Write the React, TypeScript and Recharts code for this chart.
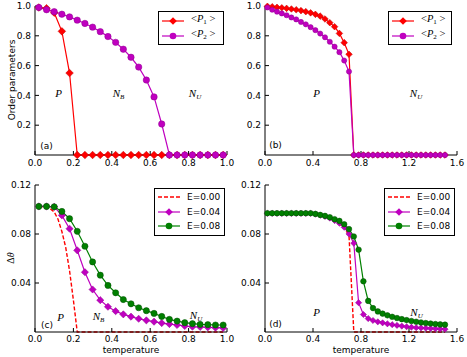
import React from 'react';
import { LineChart, Line, XAxis, YAxis, Legend } from 'recharts';

// temperature grids
const tempShort = [0.02, 0.06, 0.1, 0.14, 0.18, 0.22, 0.26, 0.3, 0.34, 0.38, 0.42, 0.46, 0.5, 0.54, 0.58, 0.62, 0.66, 0.7, 0.74, 0.78, 0.82, 0.86, 0.9, 0.94, 0.98];
const tempLong = [0.02, 0.06, 0.1, 0.14, 0.18, 0.22, 0.26, 0.3, 0.34, 0.38, 0.42, 0.46, 0.5, 0.54, 0.58, 0.62, 0.66, 0.7, 0.74, 0.78, 0.82, 0.86, 0.9, 0.94, 0.98, 1.02, 1.06, 1.1, 1.14, 1.18, 1.22, 1.26, 1.3, 1.34, 1.38, 1.42, 1.46, 1.5];

// (a) order parameters
const p1A = [0.99, 0.985, 0.955, 0.83, 0.55, 0, 0, 0, 0, 0, 0, 0, 0, 0, 0, 0, 0, 0, 0, 0, 0, 0, 0, 0, 0];
const p2A = [0.99, 0.975, 0.962, 0.945, 0.927, 0.905, 0.883, 0.858, 0.828, 0.795, 0.756, 0.71, 0.656, 0.59, 0.503, 0.39, 0.208, 0, 0, 0, 0, 0, 0, 0, 0];

// (b) order parameters
const p1B = [0.998, 0.995, 0.991, 0.988, 0.984, 0.98, 0.975, 0.969, 0.962, 0.954, 0.944, 0.932, 0.913, 0.888, 0.861, 0.816, 0.754, 0.676, 0, 0, 0, 0, 0, 0, 0, 0, 0, 0, 0, 0, 0, 0, 0, 0, 0, 0, 0, 0];
const p2B = [0.99, 0.975, 0.962, 0.95, 0.938, 0.923, 0.91, 0.893, 0.877, 0.858, 0.838, 0.815, 0.79, 0.76, 0.727, 0.69, 0.634, 0.56, 0, 0, 0, 0, 0, 0, 0, 0, 0, 0, 0, 0, 0, 0, 0, 0, 0, 0, 0, 0];

// (c) delta theta
const tempC0 = [0.02, 0.06, 0.08, 0.1, 0.12, 0.14, 0.16, 0.18, 0.2, 0.22, 0.6, 0.98];
const e00C = [0.1025, 0.102, 0.1005, 0.098, 0.092, 0.082, 0.069, 0.05, 0.026, 0, 0, 0];
const e04C = [0.1025, 0.1025, 0.1022, 0.0952, 0.0843, 0.0667, 0.0488, 0.0347, 0.026, 0.0206, 0.017, 0.0144, 0.0125, 0.0108, 0.0095, 0.0084, 0.0073, 0.0065, 0.0057, 0.0049, 0.0043, 0.0041, 0.0038, 0.0035, 0.0033];
const e08C = [0.1025, 0.1025, 0.1022, 0.0984, 0.0925, 0.0822, 0.07, 0.0572, 0.0464, 0.038, 0.032, 0.0265, 0.023, 0.0198, 0.0174, 0.0152, 0.0127, 0.0103, 0.0089, 0.0076, 0.0068, 0.0062, 0.006, 0.0057, 0.0057];

// (d) delta theta
const tempD0 = [0.02, 0.38, 0.5, 0.58, 0.66, 0.7, 0.74, 1.1, 1.5];
const e00D = [0.097, 0.0968, 0.094, 0.0905, 0.085, 0.079, 0, 0, 0];
const e04D = [0.0968, 0.0968, 0.0968, 0.0968, 0.0968, 0.0968, 0.0968, 0.0968, 0.0968, 0.0968, 0.0962, 0.0953, 0.0943, 0.093, 0.091, 0.0888, 0.0855, 0.08, 0.0725, 0.0239, 0.0143, 0.011, 0.0094, 0.0083, 0.0075, 0.0067, 0.006, 0.0054, 0.0048, 0.0043, 0.0039, 0.0035, 0.0033, 0.0031, 0.0029, 0.0027, 0.0025, 0.0023];
const e08D = [0.097, 0.097, 0.097, 0.097, 0.097, 0.097, 0.097, 0.097, 0.097, 0.097, 0.0964, 0.0956, 0.0948, 0.0937, 0.0921, 0.0907, 0.088, 0.084, 0.078, 0.0672, 0.0414, 0.0254, 0.0195, 0.0168, 0.015, 0.0136, 0.0124, 0.0114, 0.0105, 0.0097, 0.009, 0.0084, 0.0078, 0.0073, 0.0069, 0.0065, 0.0062, 0.006];

const ticksX1 = [0, 0.2, 0.4, 0.6, 0.8, 1.0];
const ticksX16 = [0, 0.4, 0.8, 1.2, 1.6];
const ticksOrder = [0.2, 0.4, 0.6, 0.8, 1.0];
const ticksDelta = [0.04, 0.08, 0.12];

const RED = '#ff0000';
const MAGENTA = '#bf00bf';
const GREEN = '#008000';
const SANS = '"DejaVu Sans", sans-serif';
const SERIF = '"Liberation Serif", "DejaVu Serif", serif';

const rows = (xs: number[], ys: number[]) => xs.map((t, i) => ({ t, v: ys[i] }));

const diamondDot = (r: number, fill: string, edge: string) => (props: any) => {
  const { cx, cy, index } = props;
  if (cx == null || cy == null) return <g key={index} />;
  return (
    <polygon
      key={index}
      points={`${cx},${cy - r} ${cx + r},${cy} ${cx},${cy + r} ${cx - r},${cy}`}
      fill={fill}
      stroke={edge}
      strokeWidth={0.5}
    />
  );
};

const circleDot = (r: number, fill: string, edge: string) => ({ r, fill, stroke: edge, strokeWidth: 0.5 });

function frameAxes(xMax: number, xTicks: number[], yMax: number, yTicks: number[], yDigits: number, xMargin: number) {
  const tickFont = { fontSize: 9, fill: '#000', fontFamily: SANS };
  const line = { stroke: '#000', strokeWidth: 1 };
  return [
    <XAxis key="xb" dataKey="t" type="number" domain={[0, xMax]} ticks={xTicks} interval={0}
      tickFormatter={(v: number) => v.toFixed(1)} axisLine={line} tickLine={line}
      tickSize={-4} tickMargin={xMargin} height={20} tick={tickFont} />,
    <XAxis key="xt" xAxisId="top" orientation="top" type="number" domain={[0, xMax]} ticks={xTicks} interval={0}
      tickFormatter={() => ''} axisLine={line} tickLine={line} tickSize={-4} height={0} tick={tickFont} />,
    <YAxis key="yl" type="number" domain={[0, yMax]} ticks={yTicks} interval={0}
      tickFormatter={(v: number) => v.toFixed(yDigits)} axisLine={line} tickLine={line}
      tickSize={-4} tickMargin={8} width={30} tick={tickFont} />,
    <YAxis key="yr" yAxisId="right" orientation="right" type="number" domain={[0, yMax]} ticks={yTicks} interval={0}
      tickFormatter={() => ''} axisLine={line} tickLine={line} tickSize={-4} width={0} tick={tickFont} />,
  ];
}

type Entry = { label: React.ReactNode; color: string; marker: 'diamond' | 'circle' | 'none'; dashed?: boolean };

function legendBox(entries: Entry[], width: number, rowH: number) {
  return () => (
    <div style={{ border: '1px solid #000', background: '#fff', width, boxSizing: 'border-box', padding: '1px 0 1px 3px' }}>
      {entries.map((e, i) => (
        <div key={i} style={{ display: 'flex', alignItems: 'center', height: rowH }}>
          <svg width={22} height={10} style={{ overflow: 'visible' }}>
            <line x1={0} y1={5} x2={22} y2={5} stroke={e.color} strokeWidth={e.dashed ? 1.4 : 1.2} strokeDasharray={e.dashed ? '4 2' : undefined} />
            {e.marker === 'diamond' && <polygon points="11,1.2 14.8,5 11,8.8 7.2,5" fill={e.color} />}
            {e.marker === 'circle' && <circle cx={11} cy={5} r={3.3} fill={e.color} />}
          </svg>
          <span style={{ marginLeft: 7, fontSize: 9, lineHeight: '10px', whiteSpace: 'nowrap' }}>{e.label}</span>
        </div>
      ))}
    </div>
  );
}

const avg = (n: string) => (
  <span style={{ fontFamily: SERIF, fontSize: 10.5 }}>
    &lt;<i>P</i><sub style={{ fontSize: 7, verticalAlign: '-2px' }}>{n}</sub> &gt;
  </span>
);

const orderEntries: Entry[] = [
  { label: avg('1'), color: RED, marker: 'diamond' },
  { label: avg('2'), color: MAGENTA, marker: 'circle' },
];
const deltaEntries: Entry[] = [
  { label: <span style={{ fontFamily: SANS }}>E=0.00</span>, color: RED, marker: 'none', dashed: true },
  { label: <span style={{ fontFamily: SANS }}>E=0.04</span>, color: MAGENTA, marker: 'diamond' },
  { label: <span style={{ fontFamily: SANS }}>E=0.08</span>, color: GREEN, marker: 'circle' },
];

const legendProps = (left: number, top: number) => ({
  layout: 'vertical' as const,
  align: 'center' as const,
  verticalAlign: 'middle' as const,
  wrapperStyle: { left, top, width: 'auto' },
});

function Note({ x, y, children, sans }: { x: number; y: number; children: React.ReactNode; sans?: boolean }) {
  return (
    <div style={{
      position: 'absolute', left: x, top: y, transform: 'translate(-50%, -50%)',
      fontFamily: sans ? SANS : SERIF, fontStyle: sans ? 'normal' : 'italic', fontSize: sans ? 9 : 11,
      whiteSpace: 'nowrap', lineHeight: 1,
    }}>
      {children}
    </div>
  );
}

const sub = (s: string) => <sub style={{ fontSize: 7, verticalAlign: '-2px' }}>{s}</sub>;

const xLabel = { position: 'absolute' as const, top: 350, transform: 'translate(-50%, -50%)', fontFamily: SANS, fontSize: 9, lineHeight: 1 };

export default function App() {
  return (
    <div style={{ position: 'absolute', left: 0, top: 0, width: 467, height: 357, background: '#fff', overflow: 'hidden' }}>
      {/* (a) */}
      <div style={{ position: 'absolute', left: 0, top: 0 }}>
        <LineChart width={240} height={175} margin={{ top: 6, right: 13, left: 5, bottom: 0 }}>
          {frameAxes(1, ticksX1, 1, ticksOrder, 1, 9)}
          <Line data={rows(tempShort, p1A)} dataKey="v" stroke={RED} strokeWidth={1.2}
            dot={diamondDot(3.8, RED, '#c00000')} isAnimationActive={false} />
          <Line data={rows(tempShort, p2A)} dataKey="v" stroke={MAGENTA} strokeWidth={1.2}
            dot={circleDot(3.2, MAGENTA, '#900090')} isAnimationActive={false} />
          <Legend {...legendProps(158, 11)} content={legendBox(orderEntries, 66, 15)} />
        </LineChart>
      </div>

      {/* (b) */}
      <div style={{ position: 'absolute', left: 230, top: 0 }}>
        <LineChart width={237} height={175} margin={{ top: 6, right: 10, left: 5, bottom: 0 }}>
          {frameAxes(1.6, ticksX16, 1, ticksOrder, 1, 9)}
          <Line data={rows(tempLong, p1B)} dataKey="v" stroke={RED} strokeWidth={1.2}
            dot={diamondDot(3.3, RED, '#c00000')} isAnimationActive={false} />
          <Line data={rows(tempLong, p2B)} dataKey="v" stroke={MAGENTA} strokeWidth={1.2}
            dot={circleDot(2.6, MAGENTA, '#900090')} isAnimationActive={false} />
          <Legend {...legendProps(158, 11)} content={legendBox(orderEntries, 64, 15)} />
        </LineChart>
      </div>

      {/* (c) */}
      <div style={{ position: 'absolute', left: 0, top: 175 }}>
        <LineChart width={240} height={182} margin={{ top: 10, right: 13, left: 5, bottom: 5 }}>
          {frameAxes(1, ticksX1, 0.12, ticksDelta, 2, 7.5)}
          <Line data={rows(tempC0, e00C)} dataKey="v" stroke={RED} strokeWidth={1.4} strokeDasharray="4 2"
            dot={false} isAnimationActive={false} />
          <Line data={rows(tempShort, e04C)} dataKey="v" stroke={MAGENTA} strokeWidth={1.2}
            dot={diamondDot(3.6, MAGENTA, '#900090')} isAnimationActive={false} />
          <Line data={rows(tempShort, e08C)} dataKey="v" stroke={GREEN} strokeWidth={1.2}
            dot={circleDot(3.1, GREEN, '#004c00')} isAnimationActive={false} />
          <Legend {...legendProps(154, 13)} content={legendBox(deltaEntries, 71, 14.5)} />
        </LineChart>
      </div>

      {/* (d) */}
      <div style={{ position: 'absolute', left: 230, top: 175 }}>
        <LineChart width={237} height={182} margin={{ top: 10, right: 10, left: 5, bottom: 5 }}>
          {frameAxes(1.6, ticksX16, 0.12, ticksDelta, 2, 7.5)}
          <Line data={rows(tempD0, e00D)} dataKey="v" stroke={RED} strokeWidth={1.4} strokeDasharray="4 2"
            dot={false} isAnimationActive={false} />
          <Line data={rows(tempLong, e04D)} dataKey="v" stroke={MAGENTA} strokeWidth={1.2}
            dot={diamondDot(3.1, MAGENTA, '#900090')} isAnimationActive={false} />
          <Line data={rows(tempLong, e08D)} dataKey="v" stroke={GREEN} strokeWidth={1.2}
            dot={circleDot(2.8, GREEN, '#004c00')} isAnimationActive={false} />
          <Legend {...legendProps(154, 13)} content={legendBox(deltaEntries, 71, 14.5)} />
        </LineChart>
      </div>

      {/* axis labels */}
      <div style={{ position: 'absolute', left: 12, top: 80, transform: 'translate(-50%, -50%) rotate(-90deg)', fontFamily: SANS, fontSize: 9, whiteSpace: 'nowrap' }}>
        Order parameters
      </div>
      <div style={{ position: 'absolute', left: 10, top: 258, transform: 'translate(-50%, -50%) rotate(-90deg)', fontFamily: SERIF, fontSize: 10, whiteSpace: 'nowrap' }}>
        Δ<i>θ</i>
      </div>
      <div style={{ ...xLabel, left: 131 }}>temperature</div>
      <div style={{ ...xLabel, left: 361 }}>temperature</div>

      {/* phase annotations */}
      <Note x={58.5} y={93}>P</Note>
      <Note x={118.5} y={94}>N{sub('B')}</Note>
      <Note x={195} y={94}>N{sub('U')}</Note>
      <Note x={46.5} y={145.5} sans>(a)</Note>

      <Note x={316.5} y={93}>P</Note>
      <Note x={416} y={94}>N{sub('U')}</Note>
      <Note x={275.5} y={145} sans>(b)</Note>

      <Note x={60.5} y={316.5}>P</Note>
      <Note x={98.5} y={317}>N{sub('B')}</Note>
      <Note x={196} y={316}>N{sub('U')}</Note>
      <Note x={47} y={325} sans>(c)</Note>

      <Note x={316.5} y={311.5}>P</Note>
      <Note x={416.5} y={313}>N{sub('U')}</Note>
      <Note x={275.5} y={324} sans>(d)</Note>
    </div>
  );
}
